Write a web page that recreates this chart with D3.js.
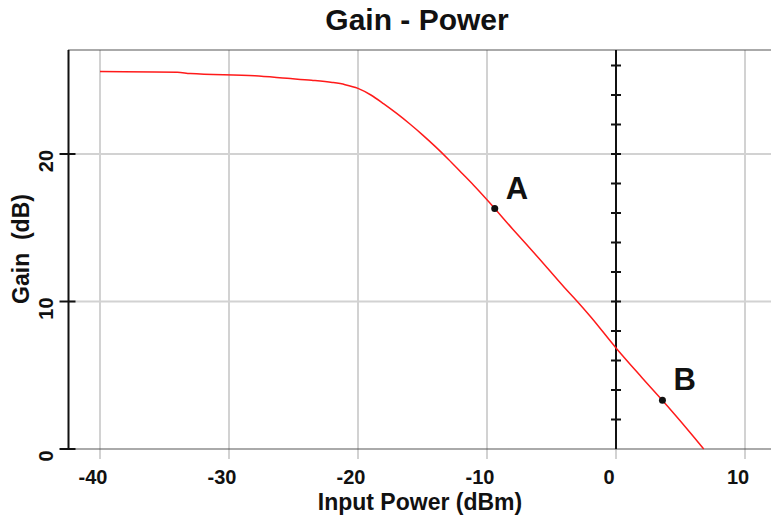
<!DOCTYPE html>
<html>
<head>
<meta charset="utf-8">
<script src="https://cdn.jsdelivr.net/npm/d3@7"></script>
<style>
  body { margin: 0; background: #fff; }
  svg { display: block; font-family: "Liberation Sans", Arial, sans-serif; }
  .tick-label { font-size: 20px; font-weight: bold; fill: #111; }
  .axis-title { font-size: 23px; font-weight: bold; fill: #111; }
</style>
</head>
<body>
<svg width="771" height="519"></svg>
<script>
// Data
var inputPower = [-40, -34, -33, -28, -25.5, -23.6, -22, -21, -20, -19, -18, -17, -16, -15, -14, -13, -12, -11, -10,
                  -8, -6, -4, -3, -2, 0, 2, 4, 6, 6.8];
var gain = [25.6, 25.55, 25.45, 25.3, 25.13, 25.0, 24.85, 24.7, 24.45, 24.0, 23.4, 22.75, 22.05, 21.3, 20.5, 19.65, 18.75, 17.85, 16.9,
            14.9, 12.95, 10.95, 10.0, 9.0, 6.85, 4.85, 2.9, 0.85, 0];
var markerNames = ["A", "B"];
var markerX = [-9.4, 3.6];
var markerY = [16.3, 3.3];
var xTicks = [-40, -30, -20, -10, 0, 10];
var yTicks = [0, 10, 20];
var minorTicks = [2, 4, 6, 8, 10, 12, 14, 16, 18, 20, 22, 24, 26];

var svg = d3.select("svg");

// Plot frame
var plotLeft = 68.5, plotRight = 771, plotTop = 50, plotBottom = 449;

var x = d3.scaleLinear().domain([-40, 10]).range([100, 745]);
var y = d3.scaleLinear().domain([0, 20]).range([plotBottom, 154]);

// Grid lines
svg.selectAll(".vgrid")
    .data(xTicks)
    .enter().append("line")
    .attr("x1", d => x(d)).attr("x2", d => x(d))
    .attr("y1", plotTop).attr("y2", plotBottom + 10)
    .attr("stroke", "#d2d2d2").attr("stroke-width", 2);

svg.selectAll(".hgrid")
    .data(yTicks.filter(d => d > 0))
    .enter().append("line")
    .attr("x1", plotLeft).attr("x2", plotRight)
    .attr("y1", d => y(d)).attr("y2", d => y(d))
    .attr("stroke", "#d2d2d2").attr("stroke-width", 2);

// Dotted top and bottom borders
svg.append("line")
    .attr("x1", plotLeft).attr("x2", plotRight).attr("y1", plotTop).attr("y2", plotTop)
    .attr("stroke", "#555").attr("stroke-width", 2).attr("stroke-dasharray", "1,1");
svg.append("line")
    .attr("x1", plotLeft + 6).attr("x2", plotRight).attr("y1", plotBottom).attr("y2", plotBottom)
    .attr("stroke", "#555").attr("stroke-width", 2).attr("stroke-dasharray", "1,1");

// Left axis
svg.append("line")
    .attr("x1", plotLeft).attr("x2", plotLeft).attr("y1", plotTop).attr("y2", plotBottom)
    .attr("stroke", "#111").attr("stroke-width", 2);
svg.selectAll(".ytick")
    .data(yTicks)
    .enter().append("line")
    .attr("x1", plotLeft - 9).attr("x2", plotLeft + 7)
    .attr("y1", d => y(d)).attr("y2", d => y(d))
    .attr("stroke", "#111").attr("stroke-width", 2);

// Vertical axis at 0 dBm with minor ticks
svg.append("line")
    .attr("x1", x(0)).attr("x2", x(0)).attr("y1", plotTop).attr("y2", plotBottom)
    .attr("stroke", "#111").attr("stroke-width", 2);
svg.selectAll(".mtick")
    .data(minorTicks)
    .enter().append("line")
    .attr("x1", x(0) - 5).attr("x2", x(0) + 5)
    .attr("y1", d => y(d)).attr("y2", d => y(d))
    .attr("stroke", "#111").attr("stroke-width", 2);

// Tick labels
svg.selectAll(".xlabel")
    .data(xTicks)
    .enter().append("text")
    .attr("class", "tick-label")
    .attr("x", d => x(d) - 7)
    .attr("y", 483.5)
    .attr("text-anchor", "middle")
    .text(d => d);

svg.selectAll(".ylabel")
    .data(yTicks)
    .enter().append("text")
    .attr("class", "tick-label")
    .attr("transform", d => "translate(53," + (y(d) + 7) + ") rotate(-90)")
    .attr("text-anchor", "middle")
    .text(d => d);

// Titles
svg.append("text")
    .attr("x", 417).attr("y", 29.5)
    .attr("text-anchor", "middle")
    .style("font-size", "30px").style("font-weight", "bold").style("fill", "#111")
    .text("Gain - Power");

svg.append("text")
    .attr("class", "axis-title")
    .attr("x", 420).attr("y", 510)
    .attr("text-anchor", "middle")
    .text("Input Power (dBm)");

svg.append("text")
    .attr("class", "axis-title")
    .attr("transform", "translate(29,249) rotate(-90)")
    .attr("text-anchor", "middle")
    .style("white-space", "pre")
    .text("Gain  (dB)");

// Gain curve
var line = d3.line()
    .curve(d3.curveMonotoneX)
    .x((d, i) => x(inputPower[i]))
    .y((d, i) => y(gain[i]));

svg.append("path")
    .datum(gain)
    .attr("d", line)
    .attr("fill", "none")
    .attr("stroke", "#ff1a1a")
    .attr("stroke-width", 1.5);

// Markers
svg.selectAll(".marker")
    .data(markerNames)
    .enter().append("circle")
    .attr("cx", (d, i) => x(markerX[i]))
    .attr("cy", (d, i) => y(markerY[i]))
    .attr("r", 3.5)
    .attr("fill", "#111");

svg.selectAll(".mlabel")
    .data(markerNames)
    .enter().append("text")
    .attr("x", (d, i) => x(markerX[i]) + 11)
    .attr("y", (d, i) => y(markerY[i]) - 10)
    .style("font-size", "31px").style("font-weight", "bold").style("fill", "#111")
    .text(d => d);
</script>
</body>
</html>
